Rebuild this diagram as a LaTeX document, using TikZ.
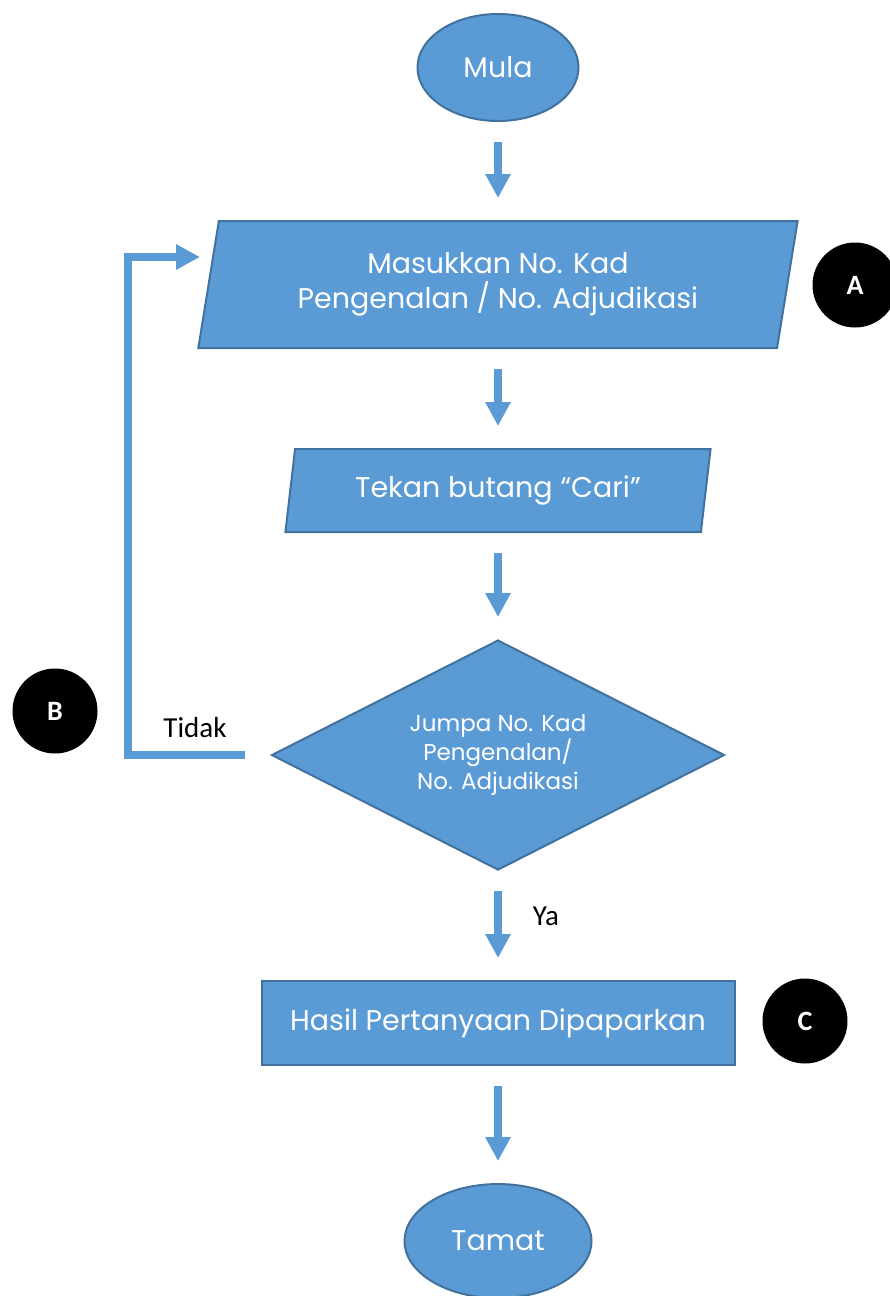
\documentclass[tikz,border=0pt]{standalone}
\usepackage{fontspec}
\setmainfont{Poppins}
\newfontfamily\labelfont{Carlito}
\usepackage{tikz}
\usetikzlibrary{positioning}
\usetikzlibrary{shapes.geometric}
\usetikzlibrary{arrows.meta}

\definecolor{boxblue}{HTML}{5B9BD5}
\definecolor{boxedge}{HTML}{41719C}

\tikzset{
	box/.style={draw=boxedge, line width=2pt, fill=boxblue, text=white, align=center, inner sep=0pt, font=\fontsize{28.5}{35}\selectfont},
	terminal/.style={box, ellipse},
	io/.style={box, trapezium, trapezium left angle=77, trapezium right angle=103, trapezium stretches=true},
	flow/.style={draw=boxblue, line width=8pt, -{Triangle[length=24pt,width=24pt]}, shorten <=20pt, shorten >=22pt},
	tag/.style={circle, fill=black, text=white, inner sep=0pt, minimum size=85pt, font=\labelfont\bfseries\fontsize{28}{28}\selectfont},
	note/.style={inner sep=0pt, font=\labelfont\fontsize{29}{29}\selectfont}
}

\begin{document}
\begin{tikzpicture}[x=1pt, y=-1pt]
		\useasboundingbox (0,0) rectangle (889,1296);
		\node[terminal, minimum width=161pt, minimum height=107pt] (start) at (498,67.5) {Mula};
		\node[io, below = 98pt of start, minimum width=601pt, minimum height=127pt] (in1) {Masukkan No. Kad\\Pengenalan / No. Adjudikasi};
		\node[io, below = 99pt of in1, minimum width=427pt, minimum height=83pt] (in2) {Tekan butang “Cari”};
		\node[box, diamond, shape aspect=2, below = 106pt of in2, minimum width=453pt, minimum height=230pt, font=\fontsize{23}{29}\selectfont] (check) {Jumpa No. Kad\\Pengenalan/\\No. Adjudikasi};
		\node[box, rectangle, below = 109pt of check, minimum width=473pt, minimum height=84pt] (show) {Hasil Pertanyaan Dipaparkan};
		\node[terminal, below = 117pt of show, minimum width=187pt, minimum height=114pt] (stop) {Tamat};
		\node[tag] (tagA) at (855,285) {A};
		\node[tag] (tagB) at (55,711) {B};
		\node[tag] (tagC) at (805,1021) {C};
		\node[note] (no) at (195,728) {Tidak};
		\node[note] (yes) at (546,916) {Ya};
		\coordinate (turn) at (128,257);
		\coordinate (backin) at (220,257);
		\draw[flow] (start.south) -- (in1.north);
		\draw[flow] (in1.south) -- (in2.north);
		\draw[flow] (in2.south) -- (check.north);
		\draw[flow] (check.south) -- (show.north);
		\draw[flow] (show.south) -- (stop.north);
		\draw[flow, line join=miter, shorten <=26pt, shorten >=20pt] (check.west) -| (turn) -- (backin);
	\end{tikzpicture}
\end{document}
